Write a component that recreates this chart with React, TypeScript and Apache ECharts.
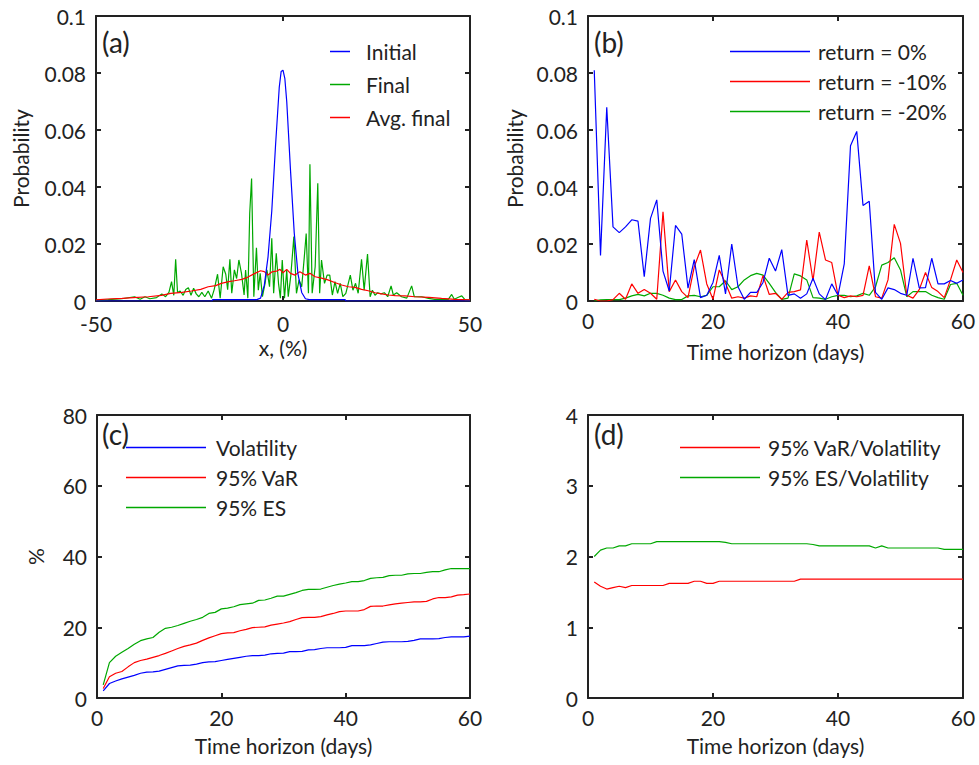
import React, { useEffect, useRef } from "react";
import * as echarts from "echarts";

const FONT = "Lato";
const INK = "#222222";
const BLUE = "#0000ff";
const RED = "#ff0000";
const GREEN = "#00a800";
const FS = 21;

// ---------- Panel (a): probability vs x (%) ----------
const aInitialX = [-50, -19, -18.8, -8, -7, -6, -5, -4, -3, -2, -1, -0.5, 0, 0.5, 1, 2, 3, 4, 5, 6, 7, 16.6, 16.8, 50];
const aInitialY = [0, 0, 0.0005, 0.0005, 0.0005, 0.001, 0.0055, 0.0155, 0.0316, 0.0545, 0.075, 0.0805, 0.081, 0.078, 0.07, 0.046, 0.024, 0.0095, 0.003, 0.0008, 0.0005, 0.0005, 0, 0];

const aFinalX = [
  -50, -46.7, -43.1, -39.7, -38.2, -36.9, -35.6, -33.8, -32.4, -31.4,
  -30.5, -29.8, -29.2, -28.7, -28.2, -27.5, -26.7, -26, -25.3, -24.6,
  -23.9, -23.2, -22.5, -21.7, -20.9, -20, -19.1, -18.4, -17.5, -16.8,
  -16, -15.3, -14.8, -14.2, -13.7, -13, -12.4, -11.8, -11.1, -10.4,
  -10, -9.4, -8.9, -8.4, -7.8, -7.1, -6.6, -6.1, -5.5, -4.8,
  -4.3, -3.6, -3, -2.5, -1.8, -1.2, -0.7, -0.2, 0.4, 1,
  1.4, 2.1, 2.9, 3.6, 4.3, 5, 5.7, 6.2, 6.8, 7.2,
  7.8, 8.6, 9.3, 9.8, 10.3, 11.1, 11.8, 12.5, 13.2, 13.9,
  14.6, 15.3, 16, 16.8, 18, 18.7, 19.4, 20.1, 21, 21.7,
  22.6, 23.3, 23.9, 24.6, 25.3, 26.2, 27.1, 28, 28.9, 29.5,
  30.4, 31.7, 33.1, 34.4, 35.1, 37.1, 38.9, 40.6, 42.4, 44.2,
  45.1, 45.8, 46.9, 47.8, 48.7, 50,
];
const aFinalY = [
  0.0003, 0.0005, 0.0008, 0.0015, 0.0006, 0.0015, 0.0008, 0.0012, 0.0025, 0.0015,
  0.003, 0.0068, 0.002, 0.0146, 0.003, 0.0035, 0.002, 0.004, 0.0047, 0.002,
  0.0045, 0.0025, 0.0015, 0.003, 0.0015, 0.0035, 0.001, 0.004, 0.0094, 0.001,
  0.012, 0.0094, 0.004, 0.0146, 0.0027, 0.0109, 0.0079, 0.0144, 0.0097, 0.0021,
  0.0109, 0.001, 0.0308, 0.043, 0.0015, 0.0187, 0.0038, 0.0097, 0.0015, 0.0062,
  0.0109, 0.005, 0.022, 0.0027, 0.0167, 0.0062, 0.001, 0.0144, 0.001, 0.0109,
  0.0015, 0.0091, 0.0226, 0.0027, 0.0074, 0.005, 0.0155, 0.0237, 0.0027, 0.048,
  0.0027, 0.012, 0.0413, 0.0027, 0.0144, 0.0062, 0.0091, 0.0091, 0.0021, 0.0068,
  0.0027, 0.0062, 0.0015, 0.0027, 0.0091, 0.0038, 0.0062, 0.0027, 0.0146, 0.0038,
  0.0165, 0.0015, 0.0038, 0.002, 0.0029, 0.0025, 0.0029, 0.0015, 0.0053, 0.0021,
  0.0029, 0.0015, 0.001, 0.0053, 0.0015, 0.0015, 0.0009, 0.0006, 0.0006, 0.0006,
  0.0023, 0.0006, 0.0013, 0.0018, 0.0004, 0.0004,
];

const aAvgX = [
  -50, -47, -43, -40, -36, -32.5, -30, -27, -24.5, -22,
  -20, -18, -16.5, -14.5, -13, -11, -9.5, -7.5, -6, -5,
  -4, -3, -1.7, -0.8, 0, 1, 2, 3.2, 4.5, 6,
  7.2, 8.6, 10.3, 12, 14, 15.7, 17.5, 19.3, 21, 22.8,
  24.6, 26.4, 28.2, 30, 32.6, 35.3, 39, 42.4, 46, 50,
];
const aAvgY = [
  0.0004, 0.0007, 0.0009, 0.0012, 0.0015, 0.002, 0.0027, 0.003, 0.0035, 0.0041,
  0.005, 0.0054, 0.0062, 0.0068, 0.0071, 0.0076, 0.0083, 0.0097, 0.0106, 0.0103,
  0.0091, 0.0102, 0.0105, 0.0111, 0.0099, 0.0111, 0.0097, 0.0091, 0.0103, 0.0091,
  0.0097, 0.0085, 0.008, 0.0074, 0.0064, 0.0056, 0.005, 0.0048, 0.0041, 0.0036,
  0.0029, 0.0025, 0.0021, 0.0019, 0.0018, 0.0015, 0.0013, 0.0009, 0.0006, 0.0004,
];

// ---------- shared time axis (days) ----------
const days = [
  1, 2, 3, 4, 5, 6, 7, 8, 9, 10, 11, 12, 13, 14, 15, 16, 17, 18, 19, 20,
  21, 22, 23, 24, 25, 26, 27, 28, 29, 30, 31, 32, 33, 34, 35, 36, 37, 38, 39, 40,
  41, 42, 43, 44, 45, 46, 47, 48, 49, 50, 51, 52, 53, 54, 55, 56, 57, 58, 59, 60,
];

// ---------- Panel (b): probability vs time horizon ----------
const bReturn0 = [
  0.081, 0.016, 0.068, 0.026, 0.024, 0.026, 0.0285, 0.028, 0.0085, 0.029,
  0.0355, 0.0105, 0.0035, 0.0265, 0.0235, 0.0045, 0.0145, 0.0012, 0.002, 0.0065,
  0.016, 0.0025, 0.02, 0.005, 0.0006, 0.003, 0.003, 0.0065, 0.015, 0.0105,
  0.018, 0.002, 0.0025, 0.001, 0.0025, 0.008, 0.0025, 0.0005, 0.006, 0.002,
  0.013, 0.0545, 0.0595, 0.0335, 0.035, 0.003, 0.0006, 0.0046, 0.004, 0.0027,
  0.002, 0.015, 0.0046, 0.0047, 0.015, 0.006, 0.006, 0.0072, 0.0062, 0.0074,
];
const bReturn10 = [
  0.0006, 0, 0, 0.0005, 0.0027, 0.0006, 0.006, 0.0027, 0.004, 0.0027,
  0.0006, 0.0313, 0.0033, 0.0074, 0.0033, 0.0012, 0.012, 0.0179, 0.006, 0.0006,
  0.0109, 0.0062, 0.001, 0.0015, 0.001, 0.0018, 0.0015, 0.0089, 0.0023, 0.0027,
  0.0006, 0.003, 0.0033, 0.0039, 0.0214, 0.0071, 0.0242, 0.0144, 0.0135, 0.002,
  0.0012, 0.0018, 0.0015, 0.002, 0.0123, 0.0015, 0.001, 0.0074, 0.0269, 0.0202,
  0.002, 0.001, 0.004, 0.01, 0.0047, 0.0033, 0.0012, 0.0074, 0.0144, 0.01,
];
const bReturn20 = [
  0, 0.0004, 0.0005, 0.0005, 0.0005, 0.001, 0.0018, 0.0023, 0.0018, 0.0027,
  0.0027, 0.002, 0.001, 0.0005, 0.0005, 0.0018, 0.002, 0.0015, 0.002, 0.005,
  0.005, 0.0071, 0.004, 0.005, 0.0074, 0.0089, 0.0097, 0.0091, 0.0062, 0.003,
  0.0006, 0.001, 0.0095, 0.0088, 0.0074, 0.0012, 0.001, 0.0006, 0.0015, 0.002,
  0.002, 0.0015, 0.0018, 0.0027, 0.002, 0.005, 0.0126, 0.0135, 0.0152, 0.0109,
  0.0015, 0.0033, 0.0033, 0.0033, 0.002, 0.0012, 0.0006, 0.0058, 0.0062, 0.002,
];

// ---------- Panel (c): % vs time horizon ----------
const cVolatility = [
  2.0, 4.1, 4.8, 5.4, 5.9, 6.4, 7.0, 7.3, 7.4, 7.6,
  8.1, 8.6, 9.1, 9.2, 9.3, 9.6, 10.0, 10.2, 10.3, 10.6,
  10.9, 11.2, 11.5, 11.8, 12.0, 12.0, 12.1, 12.5, 12.6, 12.7,
  13.1, 13.1, 13.2, 13.6, 13.7, 14.0, 14.2, 14.2, 14.2, 14.3,
  14.8, 14.8, 14.8, 15.0, 15.4, 15.8, 15.9, 15.9, 15.9, 16.0,
  16.3, 16.7, 16.7, 16.7, 16.8, 17.1, 17.3, 17.3, 17.3, 17.5,
];
const cVaR = [
  2.7, 6.0, 7.0, 7.5, 8.8, 10.0, 10.6, 11.0, 11.5, 12.0,
  12.6, 13.3, 14.0, 14.6, 15.0, 15.5, 16.3, 17.0, 17.6, 18.2,
  18.4, 18.5, 19.0, 19.4, 19.9, 20.0, 20.1, 20.6, 20.9, 21.2,
  21.6, 22.2, 22.7, 22.8, 22.8, 23.0, 23.5, 23.9, 24.4, 24.6,
  24.6, 24.6, 25.0, 25.9, 26.0, 26.0, 26.3, 26.6, 26.8, 27.0,
  27.2, 27.2, 27.3, 28.0, 28.4, 28.4, 28.6, 29.1, 29.2, 29.4,
];
const cES = [
  3.7, 10.0, 11.8, 12.9, 14.0, 15.2, 16.2, 16.7, 17.1, 18.6,
  19.7, 20.0, 20.5, 21.1, 21.7, 22.2, 22.8, 23.9, 24.2, 25.2,
  25.4, 25.8, 26.4, 26.6, 26.8, 27.6, 27.7, 28.2, 28.8, 28.8,
  29.3, 29.8, 30.4, 30.7, 30.7, 30.8, 31.3, 31.8, 32.2, 32.5,
  32.9, 32.9, 33.2, 33.8, 34.0, 34.1, 34.6, 34.7, 34.7, 35.1,
  35.2, 35.2, 35.5, 35.7, 35.7, 36.2, 36.6, 36.6, 36.6, 36.6,
];

// ---------- Panel (d): ratios vs time horizon ----------
const dVaRRatio = [
  1.64, 1.58, 1.54, 1.56, 1.58, 1.56, 1.59, 1.59, 1.59, 1.59,
  1.59, 1.59, 1.62, 1.62, 1.62, 1.62, 1.65, 1.65, 1.62, 1.62,
  1.65, 1.65, 1.65, 1.65, 1.65, 1.65, 1.65, 1.65, 1.65, 1.65,
  1.65, 1.65, 1.65, 1.68, 1.68, 1.68, 1.68, 1.68, 1.68, 1.68,
  1.68, 1.68, 1.68, 1.68, 1.68, 1.68, 1.68, 1.68, 1.68, 1.68,
  1.68, 1.68, 1.68, 1.68, 1.68, 1.68, 1.68, 1.68, 1.68, 1.68,
];
const dESRatio = [
  2.0, 2.09, 2.12, 2.12, 2.15, 2.15, 2.18, 2.18, 2.18, 2.18,
  2.21, 2.21, 2.21, 2.21, 2.21, 2.21, 2.21, 2.21, 2.21, 2.21,
  2.21, 2.2, 2.18, 2.18, 2.18, 2.18, 2.18, 2.18, 2.18, 2.18,
  2.18, 2.18, 2.18, 2.18, 2.18, 2.17, 2.15, 2.15, 2.15, 2.15,
  2.15, 2.15, 2.15, 2.15, 2.15, 2.12, 2.15, 2.12, 2.12, 2.12,
  2.12, 2.12, 2.12, 2.12, 2.12, 2.12, 2.1, 2.1, 2.1, 2.1,
];

const zip = (xs: number[], ys: number[]) => xs.map((x, i) => [x, ys[i]]);

const grids = [
  { left: 96, top: 16, width: 374, height: 285 },
  { left: 588, top: 16, width: 375, height: 285 },
  { left: 97, top: 415, width: 373, height: 283 },
  { left: 588, top: 415, width: 375, height: 283 },
];

const lineAxis = { show: true, onZero: false, lineStyle: { color: INK, width: 2 } };
const tick = { show: true, inside: true, length: 5, lineStyle: { color: INK, width: 2 } };
const nameStyle = { color: INK, fontSize: FS, fontFamily: FONT };

function xAxes(gridIndex: number, min: number, max: number, interval: number, name: string, gap: number, margin: number) {
  return [
    {
      type: "value", gridIndex, min, max, interval, position: "bottom",
      axisLine: lineAxis, axisTick: tick, splitLine: { show: false },
      axisLabel: { color: INK, fontSize: FS, fontFamily: FONT, margin },
      name, nameLocation: "middle", nameGap: gap, nameTextStyle: nameStyle,
    },
    {
      type: "value", gridIndex, min, max, interval, position: "top",
      axisLine: lineAxis, axisTick: tick, splitLine: { show: false }, axisLabel: { show: false },
    },
  ];
}
function yAxes(gridIndex: number, min: number, max: number, interval: number, name: string, gap: number) {
  return [
    {
      type: "value", gridIndex, min, max, interval, position: "left",
      axisLine: lineAxis, axisTick: tick, splitLine: { show: false },
      axisLabel: { color: INK, fontSize: FS, fontFamily: FONT, margin: 10, lineHeight: 16 },
      name, nameLocation: "middle", nameGap: gap, nameTextStyle: nameStyle,
    },
    {
      type: "value", gridIndex, min, max, interval, position: "right",
      axisLine: lineAxis, axisTick: tick, splitLine: { show: false }, axisLabel: { show: false },
    },
  ];
}

function line(name: string, color: string, xi: number, yi: number, data: number[][], width = 1.2) {
  return {
    name, type: "line", xAxisIndex: xi, yAxisIndex: yi, data,
    symbol: "none", showSymbol: false, silent: true,
    lineStyle: { color, width }, itemStyle: { color },
  };
}

function legend(left: number, top: number, names: string[], itemWidth: number, gap: number, pad: number) {
  return {
    left, top, orient: "vertical", padding: 0, icon: "rect",
    itemWidth, itemHeight: 1.5, itemGap: gap,
    data: names, selectedMode: false,
    textStyle: { color: INK, fontSize: FS, fontFamily: FONT, padding: [0, 0, 0, pad] },
  };
}

function panelLabel(text: string, left: number, top: number) {
  return { type: "text", left, top, style: { text, fontSize: 28, fontFamily: FONT, fill: INK } };
}

export default function App() {
  const ref = useRef<HTMLDivElement>(null);
  useEffect(() => {
    if (!ref.current) return;
    const chart = echarts.init(ref.current, null, { renderer: "svg" });
    const option = {
      animation: false,
      backgroundColor: "#ffffff",
      grid: grids,
      xAxis: [
        ...xAxes(0, -50, 50, 50, "x, (%)", 36, 12),
        ...xAxes(1, 0, 60, 20, "Time horizon (days)", 40, 9),
        ...xAxes(2, 0, 60, 20, "Time horizon (days)", 37, 9),
        ...xAxes(3, 0, 60, 20, "Time horizon (days)", 37, 9),
      ],
      yAxis: [
        ...yAxes(0, 0, 0.1, 0.02, "Probability", 65),
        ...yAxes(1, 0, 0.1, 0.02, "Probability", 63),
        ...yAxes(2, 0, 80, 20, "%", 51),
        ...yAxes(3, 0, 4, 1, "", 40),
      ],
      legend: [
        legend(330, 41, ["Initial", "Final", "Avg. final"], 20, 12, 11),
        legend(730, 41, ["return = 0%", "return = -10%", "return = -20%"], 80, 9, 3),
        legend(126, 437, ["Volatility", "95% VaR", "95% ES"], 80, 9, 5),
        legend(680, 437, ["95% VaR/Volatility", "95% ES/Volatility"], 80, 9, 3),
      ],
      graphic: [
        panelLabel("(a)", 102, 28),
        panelLabel("(b)", 594, 28),
        panelLabel("(c)", 102, 420),
        panelLabel("(d)", 594, 420),
      ],
      series: [
        line("Final", GREEN, 0, 0, zip(aFinalX, aFinalY)),
        line("Avg. final", RED, 0, 0, zip(aAvgX, aAvgY)),
        line("Initial", BLUE, 0, 0, zip(aInitialX, aInitialY)),
        line("return = -20%", GREEN, 2, 2, zip(days, bReturn20)),
        line("return = -10%", RED, 2, 2, zip(days, bReturn10)),
        line("return = 0%", BLUE, 2, 2, zip(days, bReturn0)),
        line("Volatility", BLUE, 4, 4, zip(days, cVolatility)),
        line("95% VaR", RED, 4, 4, zip(days, cVaR)),
        line("95% ES", GREEN, 4, 4, zip(days, cES)),
        line("95% VaR/Volatility", RED, 6, 6, zip(days, dVaRRatio)),
        line("95% ES/Volatility", GREEN, 6, 6, zip(days, dESRatio)),
      ],
    };
    chart.setOption(option as any);
    return () => chart.dispose();
  }, []);
  return (
    <div
      ref={ref}
      style={{ position: "fixed", left: 0, top: 0, width: 979, height: 765, background: "#fff" }}
    />
  );
}
